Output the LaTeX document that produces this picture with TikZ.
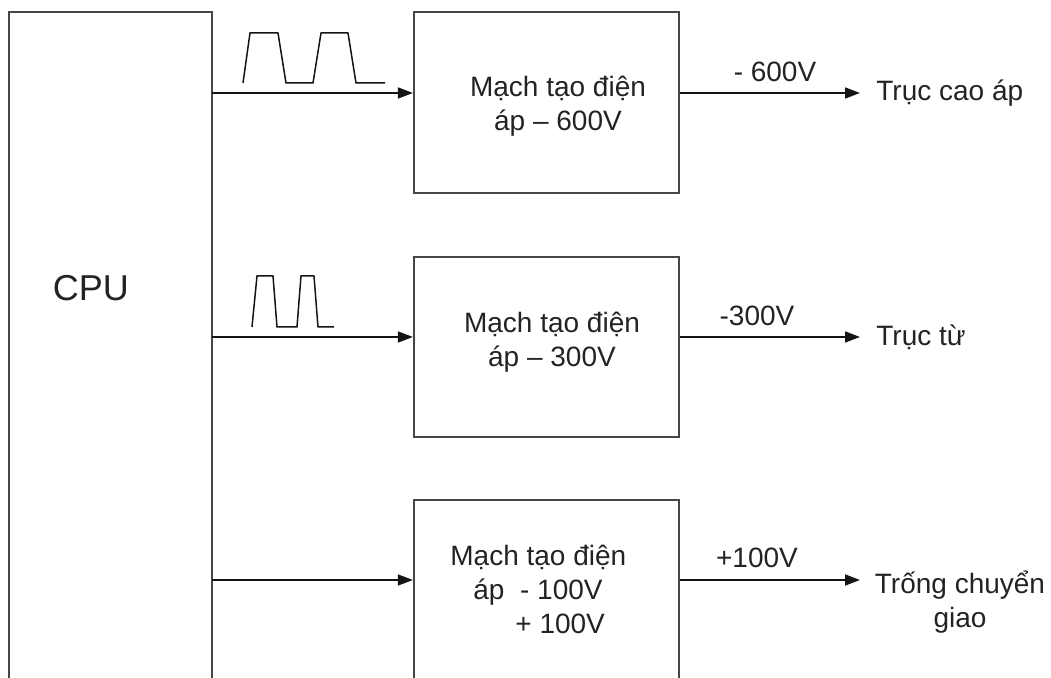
\documentclass[tikz,border=0pt]{standalone}
\usepackage{fontspec}
\setmainfont{Liberation Sans}
\usetikzlibrary{arrows.meta, positioning, fit, calc}
\definecolor{myedge}{RGB}{70,70,70}
\definecolor{mydark}{RGB}{20,20,20}
\definecolor{mytext}{RGB}{35,35,35}
\tikzset{
  block/.style={rectangle, draw=myedge, line width=1.1pt, inner sep=0pt},
  blocktext/.style={font=\fontsize{14}{17}\selectfont, text=mytext, align=center, inner sep=0pt},
  outtext/.style={font=\fontsize{14}{17}\selectfont, text=mytext, inner sep=0pt},
  arrow/.style={-{Triangle[length=7.5pt, width=5.5pt]}, line width=0.8pt, color=mydark},
  pulse/.style={line width=0.75pt, color=mydark, line join=round}
}

\begin{document}
\begin{tikzpicture}[x=0.5pt, y=-0.5pt]
  \useasboundingbox (0,0) rectangle (1051,678);
  \clip (0,0) rectangle (1051,678);

  % Blocks
  \node[block, fit={(9,12) (212,720)}] (cpu) {};
  \node[block, fit={(414,12) (679,193)}] (b600) {};
  \node[block, fit={(414,257) (679,437)}] (b300) {};
  \node[block, fit={(414,500) (679,720)}] (b100) {};

  % Block texts
  \node[font=\fontsize{18}{22}\selectfont, text=mytext, inner sep=0pt] (cputxt) at (91,288) {CPU};
  \node[blocktext] (t600) at (558,106) {Mạch tạo điện\\áp – 600V};
  \node[blocktext] (t300) at (552,342) {Mạch tạo điện\\áp – 300V};
  \node[blocktext, align=left, anchor=west] (t100) at (450,589)
    {Mạch tạo điện\\\hspace*{11.5pt}áp\ \ - 100V\\\hspace*{32.5pt}+ 100V};

  % Signals from CPU
  \coordinate (in600) at (212,93);
  \coordinate (in300) at (212,337);
  \coordinate (in100) at (212,580);
  \draw[arrow] (in600) -- (in600 -| b600.west);
  \draw[arrow] (in300) -- (in300 -| b300.west);
  \draw[arrow] (in100) -- (in100 -| b100.west);

  % Pulses
  \draw[pulse] (243,83) -- (250,33) -- (278,33) -- (286,83) -- (313,83) -- (321,33) -- (348,33) -- (356,83) -- (385,83);
  \draw[pulse] (252,327) -- (257,276) -- (273,276) -- (277,327) -- (297,327) -- (301,276) -- (314,276) -- (318,327) -- (334,327);

  % Outputs
  \coordinate (out600) at (860,93);
  \coordinate (out300) at (860,337);
  \coordinate (out100) at (860,580);
  \draw[arrow] (in600 -| b600.east) -- (out600);
  \draw[arrow] (in300 -| b300.east) -- (out300);
  \draw[arrow] (in100 -| b100.east) -- (out100);

  \node[outtext] (v600) at (775,72) {- 600V};
  \node[outtext] (v300) at (757,316) {-300V};
  \node[outtext] (v100) at (757,558) {+100V};

  \node[outtext, right=8pt of out600] (roller) {Trục cao áp};
  \node[outtext, right=8pt of out300] (magnet) {Trục từ};
  \node[outtext, align=center] (drum) at (960,602) {Trống chuyển\\giao};
\end{tikzpicture}
\end{document}
